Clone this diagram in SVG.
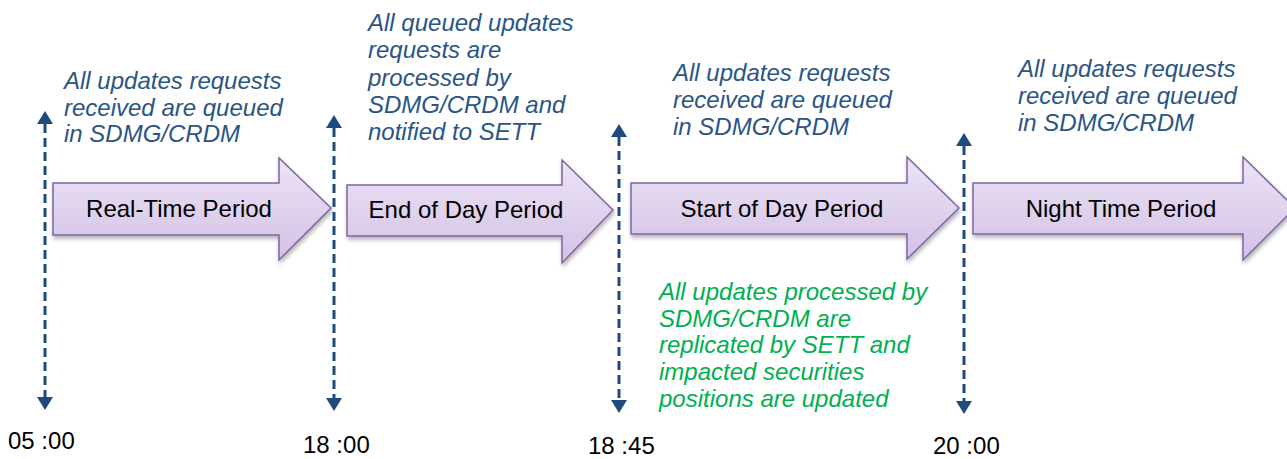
<svg xmlns="http://www.w3.org/2000/svg" width="1287" height="459" viewBox="0 0 1287 459">
<defs>
<linearGradient id="fillG" x1="0" y1="0" x2="0" y2="1">
<stop offset="0" stop-color="#ECE4F5"/>
<stop offset="1" stop-color="#D3C1E6"/>
</linearGradient>
<filter id="sh" x="-5%" y="-10%" width="115%" height="130%">
<feGaussianBlur in="SourceAlpha" stdDeviation="2"/>
<feOffset dx="1" dy="3" result="b"/>
<feComponentTransfer><feFuncA type="linear" slope="0.3"/></feComponentTransfer>
<feMerge><feMergeNode/><feMergeNode in="SourceGraphic"/></feMerge>
</filter>
<marker id="ah" viewBox="0 0 13 16" refX="0" refY="8" markerWidth="13" markerHeight="16" markerUnits="userSpaceOnUse" orient="auto-start-reverse">
<path d="M0,0 L13,8 L0,16 z" fill="#1F4A7E"/>
</marker>
</defs>
<style>
.arrow{fill:url(#fillG);stroke:#8064A2;stroke-width:1.5;filter:url(#sh)}
.lbl{font-family:"Liberation Sans",Arial,sans-serif;font-size:24px;fill:#000;text-anchor:middle}
.note{font-family:"Liberation Sans",Arial,sans-serif;font-size:24px;font-style:italic;fill:#2A5585}
.green{font-family:"Liberation Sans",Arial,sans-serif;font-size:24px;font-style:italic;fill:#00B050}
.time{font-family:"Liberation Sans",Arial,sans-serif;font-size:24px;fill:#000}
.tl{stroke:#1F4A7E;stroke-width:3;stroke-dasharray:9 5;fill:none;marker-start:url(#ah);marker-end:url(#ah)}
</style>

<g id="node-realtime">
<path class="arrow" d="M53,183 L279,183 L279,158 L331,208 L279,260 L279,235 L53,235 Z"/>
<text class="lbl" x="179" y="217">Real-Time Period</text>
</g>
<g id="node-endofday">
<path class="arrow" d="M347,185 L562,185 L562,160 L613,210 L562,263 L562,236 L347,236 Z"/>
<text class="lbl" x="466" y="218">End of Day Period</text>
</g>
<g id="node-startofday">
<path class="arrow" d="M631,183 L907,183 L907,157 L959,208 L907,259 L907,234 L631,234 Z"/>
<text class="lbl" x="782" y="217">Start of Day Period</text>
</g>
<g id="node-night">
<path class="arrow" d="M973,183 L1243,183 L1243,157 L1295,208 L1243,260 L1243,234 L973,234 Z"/>
<text class="lbl" x="1121" y="217">Night Time Period</text>
</g>

<g id="connectors">
<line class="tl" x1="45" y1="124" x2="45" y2="397"/>
<line class="tl" x1="334" y1="128" x2="334" y2="398"/>
<line class="tl" x1="619" y1="137" x2="619" y2="400"/>
<line class="tl" x1="964" y1="146" x2="964" y2="401"/>
</g>

<g id="note-realtime">
<text class="note" x="64" y="89">All updates requests</text>
<text class="note" x="64" y="116">received are queued</text>
<text class="note" x="64" y="142">in SDMG/CRDM</text>
</g>
<g id="note-endofday">
<text class="note" x="368" y="31">All queued updates</text>
<text class="note" x="368" y="58">requests are</text>
<text class="note" x="368" y="86">processed by</text>
<text class="note" x="368" y="113">SDMG/CRDM and</text>
<text class="note" x="368" y="140">notified to SETT</text>
</g>
<g id="note-startofday">
<text class="note" x="673" y="81">All updates requests</text>
<text class="note" x="673" y="108">received are queued</text>
<text class="note" x="673" y="135">in SDMG/CRDM</text>
</g>
<g id="note-night">
<text class="note" x="1018" y="77">All updates requests</text>
<text class="note" x="1018" y="104">received are queued</text>
<text class="note" x="1018" y="131">in SDMG/CRDM</text>
</g>
<g id="note-replication">
<text class="green" x="659" y="300">All updates processed by</text>
<text class="green" x="659" y="327">SDMG/CRDM are</text>
<text class="green" x="659" y="353">replicated by SETT and</text>
<text class="green" x="659" y="380">impacted securities</text>
<text class="green" x="659" y="407">positions are updated</text>
</g>

<g id="times">
<text class="time" x="8" y="449">05 :00</text>
<text class="time" x="303" y="453">18 :00</text>
<text class="time" x="588" y="454">18 :45</text>
<text class="time" x="933" y="454">20 :00</text>
</g>
</svg>
